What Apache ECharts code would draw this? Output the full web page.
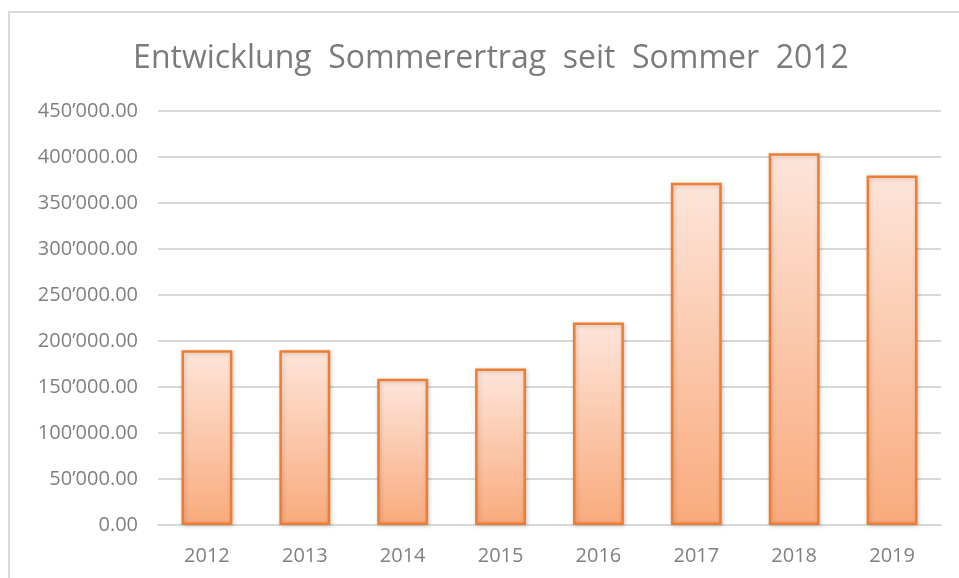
<!DOCTYPE html>
<html>
<head>
<meta charset="utf-8">
<script src="https://cdn.jsdelivr.net/npm/echarts@6/dist/echarts.min.js"></script>
<style>
  html, body { margin: 0; padding: 0; background: #fff; }
  #chart { width: 959px; height: 578px; }
</style>
</head>
<body>
<div id="chart"></div>
<script>
// Sommerertrag pro Jahr
const years = ['2012', '2013', '2014', '2015', '2016', '2017', '2018', '2019'];
const ertrag = [190000, 190000, 159000, 170000, 220000, 372000, 404000, 380000];
const yMax = 450000;
const yStep = 50000;

function fmt(v) {
  // 450'000.00 mit typografischem Apostroph
  const s = v.toFixed(2);
  const parts = s.split('.');
  return parts[0].replace(/\B(?=(\d{3})+(?!\d))/g, '\u2019') + '.' + parts[1];
}

const myChart = echarts.init(document.getElementById('chart'));

const option = {
  animation: false,
  backgroundColor: '#fff',
  title: {
    text: 'Entwicklung  Sommerertrag  seit  Sommer  2012',
    left: 486,
    top: 38,
    textAlign: 'center',
    textStyle: {
      fontFamily: 'Open Sans',
      fontWeight: 'normal',
      fontSize: 32,
      color: '#7b7b7b'
    }
  },
  graphic: [{
    type: 'rect',
    shape: { x: 9, y: 12, width: 1000, height: 1000 },
    style: { fill: 'none', stroke: '#d9d9d9', lineWidth: 2 },
    silent: true
  }],
  grid: {
    left: 158,
    right: 18,
    top: 111,
    bottom: 53,
    containLabel: false
  },
  xAxis: {
    type: 'category',
    data: years,
    axisLine: { show: true, lineStyle: { color: '#d9d9d9', width: 2 } },
    axisTick: { show: false },
    axisLabel: {
      color: '#808080',
      fontFamily: 'Open Sans',
      fontSize: 20,
      margin: 21
    }
  },
  yAxis: {
    type: 'value',
    min: 0,
    max: yMax,
    interval: yStep,
    axisLine: { show: false },
    axisTick: { show: false },
    splitLine: { lineStyle: { color: '#d9d9d9', width: 2 } },
    axisLabel: {
      color: '#808080',
      fontFamily: 'Open Sans',
      fontSize: 20,
      margin: 20,
      formatter: fmt
    }
  },
  series: [{
    type: 'bar',
    data: ertrag,
    barWidth: '52%',
    itemStyle: {
      color: new echarts.graphic.LinearGradient(0, 0, 0, 1, [
        { offset: 0, color: '#fde5da' },
        { offset: 1, color: '#f9aa7c' }
      ]),
      borderColor: '#ed7d31',
      borderWidth: 2.5,
      shadowColor: 'rgba(0,0,0,0.18)',
      shadowBlur: 4,
      shadowOffsetX: 1,
      shadowOffsetY: 1
    }
  }]
};

myChart.setOption(option, true);
window.addEventListener('resize', () => {
  myChart.resize();
});
</script>
</body>
</html>
